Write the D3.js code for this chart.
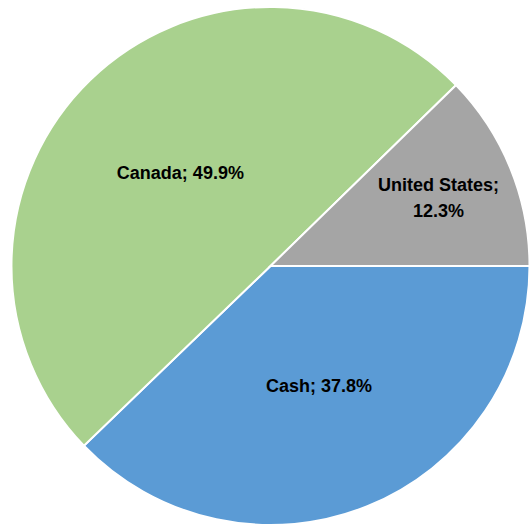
<!DOCTYPE html>
<html>
<head>
<meta charset="utf-8">
<script src="https://cdn.jsdelivr.net/npm/d3@7"></script>
<style>
  body { margin: 0; background: #fff; }
</style>
</head>
<body>
<div class="pieChart"></div>
<script>
// chart data
var categories = ["Cash", "Canada", "United States"];
var shares = [37.8, 49.9, 12.3];
var colors = ["#5B9BD5", "#A9D18E", "#A5A5A5"];

function init() {
    var w = 529;
    var h = 529;
    var cx = 270.5, cy = 266;
    var radius = 259;

    var svg = d3.select(".pieChart")
        .append("svg")
        .attr("width", w)
        .attr("height", h);

    var data = categories.map(function(c, i) {
        return { name: c, value: shares[i], color: colors[i] };
    });

    // first slice starts at 3 o'clock, clockwise
    var pie = d3.pie()
        .sort(null)
        .value(function(d) { return d.value; })
        .startAngle(Math.PI / 2)
        .endAngle(Math.PI / 2 + 2 * Math.PI);

    var arc = d3.arc().innerRadius(0).outerRadius(radius);

    var g = svg.append("g")
        .attr("transform", "translate(" + cx + "," + cy + ")");

    g.selectAll(".slice")
        .data(pie(data))
        .enter().append("path")
        .attr("class", "slice")
        .attr("d", arc)
        .attr("fill", function(d) { return d.data.color; })
        .attr("stroke", "#fff")
        .attr("stroke-width", 2);

    // labels: small slices get pushed further out
    var labels = g.selectAll(".label")
        .data(pie(data))
        .enter().append("text")
        .attr("class", "label")
        .attr("transform", function(d) {
            var r = d.data.value < 20 ? radius * 0.7 : radius * 0.5;
            var a = (d.startAngle + d.endAngle) / 2;
            return "translate(" + (r * Math.sin(a)) + "," + (-r * Math.cos(a)) + ")";
        })
        .attr("text-anchor", "middle")
        .style("font-family", "'Liberation Sans', Arial, sans-serif")
        .style("font-size", "18px")
        .style("font-weight", "bold")
        .attr("fill", "#000");

    labels.each(function(d) {
        var t = d3.select(this);
        var pct = d.data.value.toFixed(1) + "%";
        if (d.data.value < 20) {
            t.append("tspan").attr("x", 0).attr("y", -13).attr("dy", "0.35em").text(d.data.name + ";");
            t.append("tspan").attr("x", 0).attr("y", 13).attr("dy", "0.35em").text(pct);
        } else {
            t.append("tspan").attr("x", 0).attr("y", 0).attr("dy", "0.35em").text(d.data.name + "; " + pct);
        }
    });
}

window.onload = init;
</script>
</body>
</html>
